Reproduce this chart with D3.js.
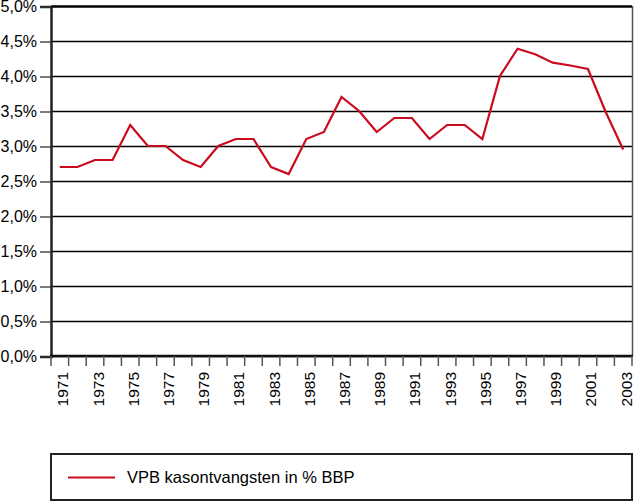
<!DOCTYPE html>
<html>
<head>
<meta charset="utf-8">
<script src="https://cdn.jsdelivr.net/npm/d3@7"></script>
<style>
  body { margin: 0; background: #fff; }
  svg { display: block; font-family: "Liberation Sans", Arial, sans-serif; }
</style>
</head>
<body>
<svg width="636" height="502"></svg>
<script>
var years = d3.range(1971, 2004);
var values = [2.7, 2.7, 2.8, 2.8, 3.3, 3.0, 3.0, 2.8, 2.7, 3.0,
              3.1, 3.1, 2.7, 2.6, 3.1, 3.2, 3.7, 3.5, 3.2, 3.4,
              3.4, 3.1, 3.3, 3.3, 3.1, 4.0, 4.39, 4.31, 4.19, 4.15,
              4.1, 3.49, 2.95];
var yTicks = [0, 0.5, 1, 1.5, 2, 2.5, 3, 3.5, 4, 4.5, 5];
var yearLabels = years.filter(function(d) { return (d - 1971) % 2 == 0; });
var seriesName = "VPB kasontvangsten in % BBP";

var svg = d3.select("svg");

var xScale = d3.scaleBand().domain(years).range([51, 632]);
var yScale = d3.scaleLinear().domain([0, 5]).range([356, 6]);

function fmt(d) { return d.toFixed(1).replace(".", ",") + "%"; }

// grid lines
svg.append("g").selectAll("line")
    .data(yTicks)
    .enter()
    .append("line")
    .attr("x1", 51).attr("x2", 632)
    .attr("y1", function(d) { return yScale(d) + 0.5; })
    .attr("y2", function(d) { return yScale(d) + 0.5; })
    .attr("stroke", "#000")
    .attr("stroke-width", function(d) { return d == 5 ? 2.5 : 1.3; });

// right border
svg.append("line")
    .attr("x1", 632.5).attr("x2", 632.5)
    .attr("y1", yScale(5)).attr("y2", yScale(0))
    .attr("stroke", "#555").attr("stroke-width", 1.5);

// y axis
var yAxis = svg.append("g")
    .attr("transform", "translate(51,0.5)")
    .call(d3.axisLeft(yScale).tickValues(yTicks).tickFormat(fmt).tickSize(11).tickPadding(3));
yAxis.select(".domain").attr("stroke", "#222").attr("stroke-width", 2.5);
yAxis.selectAll(".tick line").attr("stroke", "#333").attr("stroke-width", 1.3);
yAxis.selectAll(".tick text")
    .attr("font-size", 16).attr("fill", "#000")
    .attr("font-family", "Liberation Sans, Arial, sans-serif");

// x axis
var xAxis = svg.append("g")
    .attr("transform", "translate(0,356)");
xAxis.append("line")
    .attr("x1", 50).attr("x2", 633)
    .attr("stroke", "#111").attr("stroke-width", 2.5);
xAxis.selectAll("line.tk")
    .data(years.concat([2004]))
    .enter()
    .append("line")
    .attr("class", "tk")
    .attr("x1", function(d) { return d == 2004 ? 632 : xScale(d); })
    .attr("x2", function(d) { return d == 2004 ? 632 : xScale(d); })
    .attr("y1", 0).attr("y2", 10)
    .attr("stroke", "#555").attr("stroke-width", 1.5);
xAxis.selectAll("text")
    .data(yearLabels)
    .enter()
    .append("text")
    .attr("transform", function(d) {
        return "translate(" + (xScale(d) + xScale.bandwidth() / 2 + 8.5) + ",16) rotate(-90)";
    })
    .attr("text-anchor", "end")
    .attr("font-size", 15.5)
    .text(function(d) { return d; });

// series line
var line = d3.line()
    .x(function(d, i) { return xScale(years[i]) + xScale.bandwidth() / 2; })
    .y(function(d) { return yScale(d); });

svg.append("path")
    .datum(values)
    .attr("d", line)
    .attr("fill", "none")
    .attr("stroke", "#cc0a1e")
    .attr("stroke-width", 2.2)
    .attr("stroke-linejoin", "miter");

// legend
var legend = svg.append("g");
legend.append("rect")
    .attr("x", 51).attr("y", 454)
    .attr("width", 581).attr("height", 46)
    .attr("fill", "none")
    .attr("stroke", "#222").attr("stroke-width", 2);
legend.append("line")
    .attr("x1", 68).attr("x2", 115)
    .attr("y1", 477.5).attr("y2", 477.5)
    .attr("stroke", "#cc0a1e").attr("stroke-width", 2.2);
legend.append("text")
    .attr("x", 127).attr("y", 483)
    .attr("font-size", 16.5)
    .text(seriesName);
</script>
</body>
</html>
